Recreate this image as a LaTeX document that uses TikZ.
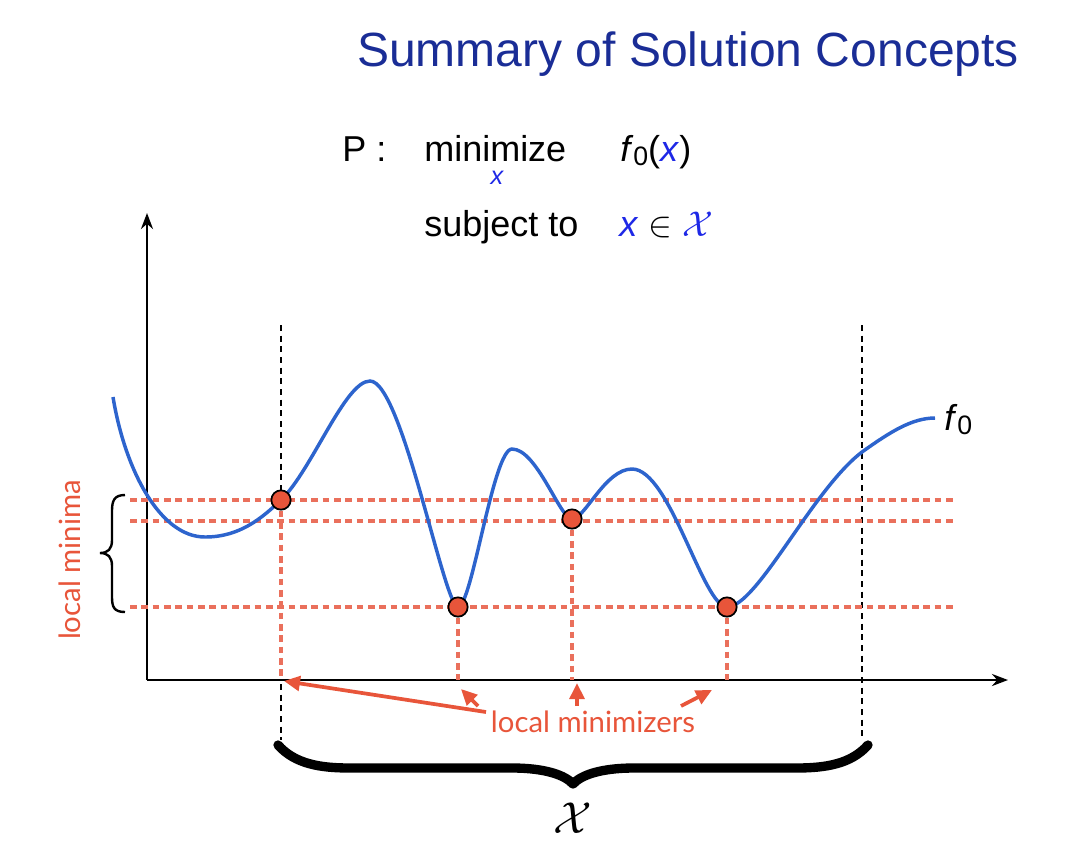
\documentclass[tikz,border=0pt]{standalone}
\usepackage{graphicx}
\usepackage{fontspec}
\setmainfont{Liberation Sans}
\newfontfamily\gillfont{Lato}
\usetikzlibrary{arrows.meta}
\definecolor{titleblue}{RGB}{26,45,150}
\definecolor{xblue}{RGB}{30,40,230}
\definecolor{curveblue}{RGB}{45,100,205}
\definecolor{lred}{RGB}{232,85,58}
\definecolor{dred}{RGB}{234,112,92}
\tikzset{
  axisline/.style={line width=2pt,-{Stealth[length=12pt,width=9pt]}},
  blackdash/.style={line width=2.2pt,dash pattern=on 4.5pt off 3.5pt},
  reddash/.style={line width=2.4pt,dred,dash pattern=on 5pt off 3.5pt},
  curve/.style={line width=2.6pt,curveblue},
  dot/.style={circle,fill=lred,draw=black,line width=1.3pt,minimum size=14.5pt,inner sep=0pt},
  redarrow/.style={line width=2.8pt,lred,-{Triangle[length=12pt,width=11pt]}},
  redlabel/.style={text=lred,font=\gillfont\fontsize{22}{24}\selectfont},
  formula/.style={font=\fontsize{27}{30}\selectfont,inner sep=0pt}
}
\begin{document}
\begin{tikzpicture}[x=0.75pt,y=-0.75pt]
\useasboundingbox (0,0) rectangle (1080,854);
% title
\node[anchor=base,text=titleblue,font=\fontsize{36}{40}\selectfont] (title) at (688,66) {Summary of Solution Concepts};
% formula
\node[anchor=base west,formula] (P) at (342,161) {P :};
\node[anchor=base west,formula] (min) at (424,161) {minimize};
\node[anchor=base,text=xblue,font=\fontsize{19}{20}\selectfont\itshape,inner sep=0pt] (sub) at (497,184) {x};
\node[anchor=base west,formula] (fx) at (620,161) {\textit{f}\raisebox{-0.22ex}{\fontsize{20}{20}\selectfont 0}(\textcolor{xblue}{\textit{x}})};
\node[anchor=base west,formula] (st) at (424,236) {subject to};
\node[anchor=base west,formula] (cons) at (619,236) {\textcolor{xblue}{\textit{x}} \scalebox{1.08}{$\in$} \textcolor{xblue}{\scalebox{1.08}{$\mathcal{X}$}}};
% axes
\coordinate (O) at (147,680);
\coordinate (ytop) at (147,213);
\coordinate (xend) at (1008,680);
\draw[axisline] (O) -- (ytop);
\draw[axisline] (O) -- (xend);
% black dashed verticals
\coordinate (la) at (281,325);
\coordinate (lb) at (281,494);
\coordinate (lc) at (281,684);
\coordinate (ld) at (281,740);
\draw[blackdash] (la) -- (lb);
\draw[blackdash] (lc) -- (ld);
\coordinate (ra) at (862,325);
\coordinate (rb) at (862,740);
\draw[blackdash] (ra) -- (rb);
% red dashed horizontals
\coordinate (h1a) at (130,500); \coordinate (h1b) at (955,500);
\coordinate (h2a) at (130,521); \coordinate (h2b) at (955,521);
\coordinate (h3a) at (130,607); \coordinate (h3b) at (955,607);
\draw[reddash] (h1a) -- (h1b);
\draw[reddash] (h2a) -- (h2b);
\draw[reddash] (h3a) -- (h3b);
% red dashed verticals
\coordinate (v1) at (281,680); \coordinate (v2) at (458,680);
\coordinate (v3) at (572,680); \coordinate (v4) at (727,680);
% curve
\draw[curve] (113,397) .. controls (125,470) and (160,537) .. (205,537)
  .. controls (240,537) and (262,518) .. (281,500)
  .. controls (312,470) and (345,381) .. (370,381)
  .. controls (402,381) and (444,607) .. (458,607)
  .. controls (472,607) and (493,449) .. (512,449)
  .. controls (537,449) and (560,519) .. (572,519)
  .. controls (585,519) and (605,469) .. (632,469)
  .. controls (670,469) and (703,607) .. (727,607)
  .. controls (757,607) and (812,490) .. (862,452)
  .. controls (890,432) and (912,418) .. (935,418);
% dots
\node[dot] (m1) at (281,500) {};
\node[dot] (m2) at (458,607) {};
\node[dot] (m3) at (572,519) {};
\node[dot] (m4) at (727,607) {};
\draw[reddash] (m1) -- (v1);
\draw[reddash] (m2) -- (v2);
\draw[reddash] (m3) -- (v3);
\draw[reddash] (m4) -- (v4);
% f0 label
\node[anchor=base west,formula] (flab) at (944,430) {\textit{f}\raisebox{-0.22ex}{\fontsize{20}{20}\selectfont 0}};
% left brace
\draw[line width=1.8pt] (125,495) .. controls (114,495) and (112,501) .. (112,511) -- (112,540)
  .. controls (112,549) and (108,553) .. (100,553)
  .. controls (108,553) and (112,557) .. (112,566) -- (112,597)
  .. controls (112,607) and (114,612) .. (125,612);
\node[redlabel,rotate=90] (lmin) at (70,560) {local minima};
% local minimizers
\node[redlabel,anchor=base] (lmz) at (593,732) {local minimizers};
\coordinate (s1) at (486,712); \coordinate (t1) at (284,681);
\coordinate (s2) at (478,706); \coordinate (t2) at (461,689);
\coordinate (s3) at (577,706); \coordinate (t3) at (577,683);
\coordinate (s4) at (681,706); \coordinate (t4) at (712,690);
\draw[redarrow] (s1) -- (t1);
\draw[redarrow] (s2) -- (t2);
\draw[redarrow] (s3) -- (t3);
\draw[redarrow] (s4) -- (t4);
% bottom brace
\draw[line width=7pt,line cap=round,line join=round] (278,745) .. controls (295,764) and (320,768) .. (350,768) -- (512,768)
  .. controls (545,768) and (565,775) .. (573,784)
  .. controls (581,775) and (601,768) .. (634,768) -- (796,768)
  .. controls (826,768) and (851,764) .. (868,745);
\node (X) at (573,818) {\fontsize{24.88}{26}\selectfont\scalebox{1.35}{$\mathcal{X}$}};
\end{tikzpicture}
\end{document}
